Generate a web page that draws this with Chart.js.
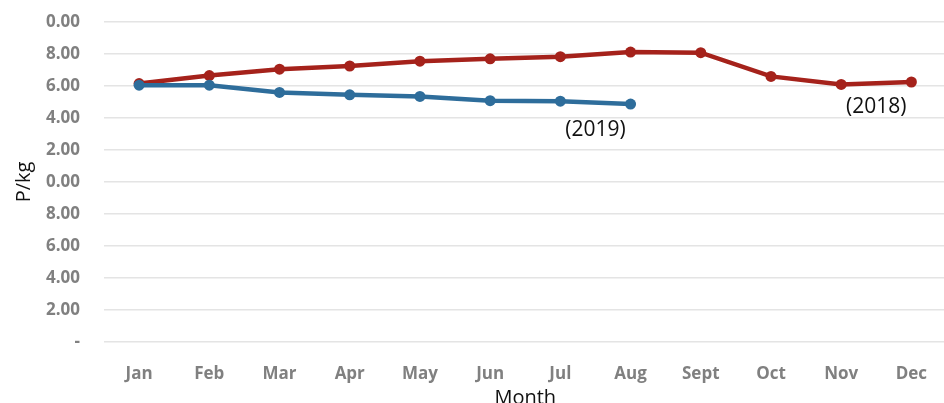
<!DOCTYPE html>
<html>
<head>
<meta charset="utf-8">
<script src="https://cdn.jsdelivr.net/npm/chart.js@4/dist/chart.umd.min.js"></script>
<style>
html,body{margin:0;padding:0;background:#fff;overflow:hidden;width:944px;height:403px;}
canvas{display:block;}
</style>
</head>
<body>
<canvas id="c" width="952" height="413" style="width:952px;height:413px"></canvas>
<script>
const months = ["Jan","Feb","Mar","Apr","May","Jun","Jul","Aug","Sept","Oct","Nov","Dec"];
const values2018 = [16.15, 16.65, 17.05, 17.25, 17.55, 17.7, 17.83, 18.12, 18.08, 16.6, 16.1, 16.25];
const values2019 = [16.05, 16.05, 15.6, 15.45, 15.35, 15.08, 15.05, 14.87];
const yTicks = [0, 2, 4, 6, 8, 10, 12, 14, 16, 18, 20];
const annotations = [
  {text: "(2019)", x: 6.5, y: 13.25},
  {text: "(2018)", x: 10.5, y: 14.7}
];

const annotationPlugin = {
  id: 'annots',
  afterDatasetsDraw(chart) {
    const ctx = chart.ctx;
    const xs = chart.scales.x, ys = chart.scales.y;
    ctx.save();
    ctx.font = '21px "Open Sans"';
    ctx.fillStyle = '#111';
    ctx.textAlign = 'center';
    ctx.textBaseline = 'middle';
    annotations.forEach(a => {
      ctx.fillText(a.text, xs.getPixelForValue(a.x), ys.getPixelForValue(a.y));
    });
    ctx.restore();
  }
};

new Chart(document.getElementById('c'), {
  type: 'line',
  data: {
    labels: months,
    datasets: [
      {
        label: '2019',
        data: values2019,
        borderColor: '#2e6d9b',
        backgroundColor: '#2e6d9b',
        borderWidth: 4.5,
        pointRadius: 5.5,
        pointBorderWidth: 0,
        tension: 0
      },
      {
        label: '2018',
        data: values2018,
        borderColor: '#a5221b',
        backgroundColor: '#a5221b',
        borderWidth: 4.5,
        pointRadius: 5.5,
        pointBorderWidth: 0,
        tension: 0
      }
    ]
  },
  options: {
    responsive: false,
    animation: false,
    devicePixelRatio: 1,
    layout: {padding: {top: 22, right: 1, left: 0, bottom: 0}},
    plugins: {legend: {display: false}, tooltip: {enabled: false}},
    scales: {
      x: {
        type: 'category',
        offset: true,
        grid: {display: false},
        border: {display: false},
        ticks: {
          color: '#808080',
          font: {family: 'Open Sans', size: 17, weight: '700'},
          padding: 14,
          maxRotation: 0,
          autoSkip: false
        },
        title: {
          display: true,
          text: 'Month',
          color: '#111',
          font: {family: 'Open Sans', size: 20},
          padding: {top: 0, bottom: 3}
        },
        afterFit(scale) { scale.height = 71; }
      },
      y: {
        min: 0,
        max: 20,
        afterBuildTicks(scale) { scale.ticks = yTicks.map(v => ({value: v})); },
        grid: {color: '#e4e4e4', lineWidth: 1.5, tickLength: 24, drawTicks: true, tickColor: 'rgba(0,0,0,0)'},
        border: {display: false},
        ticks: {
          color: '#808080',
          font: {family: 'Open Sans', size: 17, weight: '700'},
          padding: 0,
          callback(v) { return v === 0 ? '-' : v.toFixed(2).slice(-4); }
        },
        title: {
          display: true,
          text: 'P/kg',
          color: '#111',
          font: {family: 'Open Sans', size: 20},
          padding: {top: 12, bottom: 0}
        },
        afterFit(scale) { scale.width = 104; }
      }
    }
  },
  plugins: [annotationPlugin]
});
</script>
</body>
</html>
